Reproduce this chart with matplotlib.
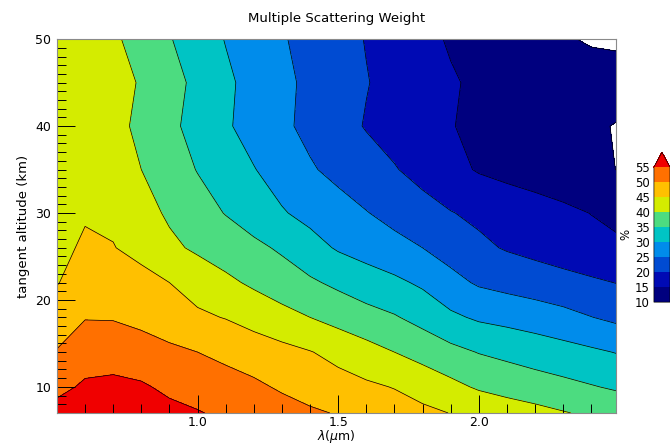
import numpy as np
import matplotlib
matplotlib.use("Agg")
import matplotlib.pyplot as plt
from matplotlib.colors import ListedColormap, BoundaryNorm
from matplotlib.ticker import MultipleLocator

# wavelength grid (um) and tangent altitude grid (km)
wavelength = [0.5, 0.6, 0.7, 0.8, 0.9, 1.0, 1.1, 1.2, 1.3, 1.4, 1.5,
              1.6, 1.7, 1.8, 1.9, 2.0, 2.1, 2.2, 2.3, 2.4, 2.5]
altitude = [7, 10, 14, 18, 22, 26, 30, 35, 40, 45, 50]

# multiple scattering weight (%), one row per altitude
w_7 = [57.0, 58.0, 58.0, 57.3, 56.3, 55.3, 54.1, 53.0, 51.9, 50.7, 49.7,
       48.4, 47.2, 46.0, 44.9, 43.8, 42.6, 41.5, 40.3, 39.2, 38.2]
w_10 = [53.5, 55.8, 56.2, 55.6, 54.0, 53.0, 52.0, 50.9, 49.4, 48.0, 46.8,
        45.8, 44.8, 43.2, 41.3, 39.4, 38.2, 37.2, 36.3, 35.3, 34.3]
w_14 = [50.3, 52.5, 52.8, 52.0, 51.0, 50.0, 48.8, 47.6, 46.4, 45.2, 43.6,
        41.8, 40.0, 38.2, 36.4, 34.8, 33.8, 32.8, 31.8, 30.8, 29.7]
w_18 = [47.0, 49.8, 49.7, 48.8, 47.3, 45.8, 44.8, 43.2, 41.6, 40.0, 38.3,
        36.7, 35.4, 33.4, 30.9, 29.3, 28.5, 27.6, 26.5, 25.1, 23.8]
w_22 = [44.8, 47.0, 47.5, 46.8, 45.0, 43.0, 41.0, 39.2, 37.4, 35.7, 34.0,
        32.4, 31.0, 29.2, 26.5, 24.4, 23.4, 22.5, 21.6, 20.7, 19.8]
w_26 = [43.5, 45.8, 45.2, 43.3, 41.0, 39.2, 37.7, 36.1, 34.3, 31.8, 29.5,
        28.0, 26.5, 25.0, 23.0, 21.0, 19.6, 18.6, 17.6, 16.6, 15.6]
w_30 = [43.8, 44.5, 44.0, 41.8, 39.3, 37.0, 34.8, 32.6, 30.4, 28.6, 26.9,
        25.2, 23.5, 21.8, 20.2, 19.0, 18.0, 17.0, 16.0, 14.9, 14.0]
w_35 = [44.3, 43.5, 42.0, 40.0, 37.4, 34.8, 32.5, 30.2, 27.9, 25.5, 23.7,
        22.0, 20.3, 18.4, 16.4, 14.6, 13.6, 12.8, 12.0, 11.2, 9.8]
w_40 = [44.0, 43.0, 41.5, 38.9, 36.1, 33.3, 30.6, 28.2, 25.9, 23.8, 21.7,
        19.7, 18.2, 16.7, 15.2, 14.0, 13.0, 12.2, 11.5, 10.8, 9.6]
w_45 = [43.5, 42.5, 41.3, 39.7, 36.8, 33.8, 30.9, 28.4, 26.1, 24.0, 22.1,
        20.2, 18.6, 16.9, 15.4, 14.3, 13.5, 12.8, 12.1, 11.8, 12.5]
w_50 = [43.5, 42.5, 40.8, 38.1, 35.3, 32.5, 29.8, 27.6, 25.4, 23.5, 21.7,
        19.8, 18.0, 16.1, 14.6, 13.5, 12.4, 11.3, 10.4, 9.6, 9.0]

levels = [10, 15, 20, 25, 30, 35, 40, 45, 50, 55]
colors = ['#00007f', '#000ab4', '#004bd2', '#008ceb', '#00c4c4',
          '#4cdc80', '#d4ec00', '#ffc000', '#ff7000']
over_color = '#f00000'

weight = np.array([w_7, w_10, w_14, w_18, w_22, w_26, w_30,
                   w_35, w_40, w_45, w_50])
X, Y = np.meshgrid(wavelength, altitude)

cmap = ListedColormap(colors)
cmap.set_over(over_color)
norm = BoundaryNorm(levels, cmap.N)

fig = plt.figure(figsize=(6.7, 4.45), dpi=100)
ax = fig.add_axes([0.085, 0.072, 0.834, 0.840])

cf = ax.contourf(X, Y, weight, levels=levels, cmap=cmap, norm=norm, extend='max')
ax.contour(X, Y, weight, levels=levels, colors='k', linewidths=0.5)

ax.set_xlim(0.5, 2.487)
ax.set_ylim(7, 50)
ax.xaxis.set_major_locator(MultipleLocator(0.5))
ax.xaxis.set_minor_locator(MultipleLocator(0.1))
ax.yaxis.set_major_locator(MultipleLocator(10))
ax.yaxis.set_minor_locator(MultipleLocator(1))
ax.tick_params(which='both', direction='in', top=False, right=False,
               width=0.7, labelsize=9)
ax.tick_params(which='major', length=13, pad=4)
ax.tick_params(axis='x', which='major', pad=2)
ax.tick_params(which='minor', length=6.5)
ax.set_xticks([1.0, 1.5, 2.0])
ax.set_xticklabels(['1.0', '1.5', '2.0'])
for sp in ax.spines.values():
    sp.set_color('#8a8a8a')
    sp.set_linewidth(0.8)

ax.set_title('Multiple Scattering Weight', fontsize=9.5, pad=12)
ax.set_xlabel(r'$\lambda$($\mu$m)', fontsize=9, labelpad=-0.5)
ax.set_ylabel('tangent altitude (km)', fontsize=9.5, labelpad=4)

cax = fig.add_axes([0.976, 0.321, 0.024, 0.337])
cb = fig.colorbar(cf, cax=cax, extendfrac=0.11)
cb.set_ticks(levels)
cb.ax.yaxis.set_ticks_position('left')
cb.ax.yaxis.set_label_position('left')
cb.ax.tick_params(length=0, labelsize=8.5, pad=3)
cb.set_label('%', fontsize=8.5, labelpad=2)
cb.outline.set_linewidth(0.5)

fig.savefig('out.png', dpi=100)
